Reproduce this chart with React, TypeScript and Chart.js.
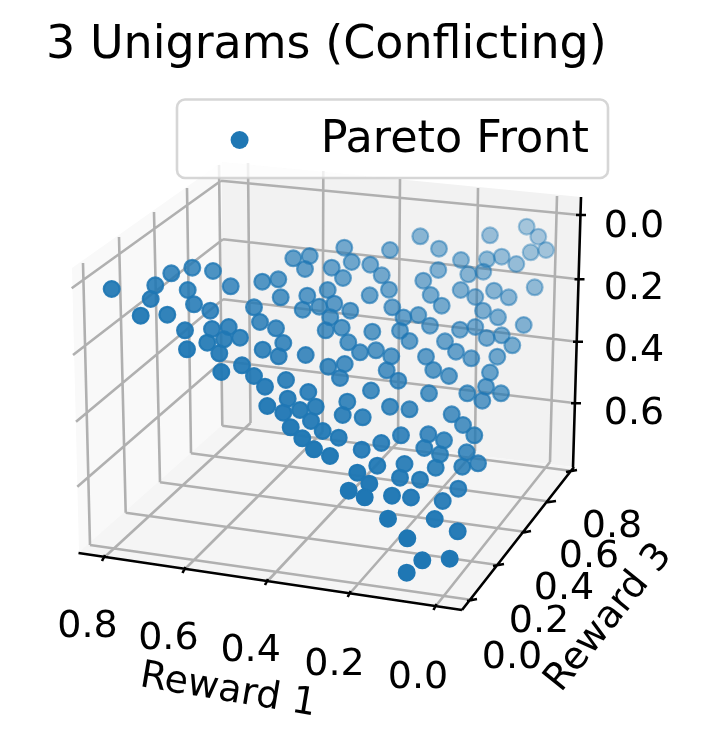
import React, { useEffect, useRef } from "react";
import { Chart, registerables } from "chart.js";

Chart.register(...registerables);

const titleText = "3 Unigrams (Conflicting)";
const seriesName = "Pareto Front";
const xAxisName = "Reward 1";
const yAxisName = "Reward 3";
const xTickLabels = ["0.8", "0.6", "0.4", "0.2", "0.0"];
const yTickLabels = ["0.0", "0.2", "0.4", "0.6", "0.8"];
const zTickLabels = ["0.0", "0.2", "0.4", "0.6"];

// Projected positions of the Pareto-front points.
const paretoX = [
  111.7, 155.3, 150.7, 140.7, 167.3, 171.3, 192.3, 213, 230.7, 187.7, 194, 210.3, 185, 187, 212, 228.7, 224, 240, 207.3, 219.3, 221.3, 242,
  344.3, 390, 293.3, 309.7, 305, 351.7, 331.7, 370.3, 381.7, 343, 262.3, 278.3, 280.7, 307.3, 327.7, 389, 369.7, 319.3, 302.7, 334.3, 350.3, 254, 392.3, 403.5, 260, 276, 330.3, 325.7, 341.7, 372.3, 400, 409.5, 283.3, 348.3, 262.7, 278.7, 305.7, 360, 376, 391.3, 328.3, 344.7, 340, 386.7, 398.3, 254, 265, 286, 308.3, 371,
  526.7, 538.3, 490, 420.3, 439, 546, 530.7, 461, 487, 501.7, 516.3, 438.3, 468.3, 483.3, 423.3, 460.7, 494, 534.7, 508.7, 430.7, 475.3, 441.7, 483, 498, 418.3, 430, 523.7, 460, 475.3, 486.7, 501.7, 512.3, 445, 456, 471.3, 497.3, 426, 433.3, 449, 490,
  267.3, 287.7, 347.3, 315.7, 300, 283.3, 342.7, 362.7, 390, 409.5, 311, 290.7, 322.7, 302.3, 338.7, 401, 381.3, 314, 330, 361.7, 377.3, 404.5, 357.3, 400, 369.3, 348.7, 364.7, 392, 411, 388,
  486, 501, 467.3, 482.3, 429, 451.7, 463, 474.3, 428.3, 444, 424.3, 440, 466.7, 478, 462.3, 435.7, 420, 458.3, 442.7, 434.7, 457.7, 407.3, 422.3, 449.7, 406.7,
];
const paretoY = [
  289, 285.3, 299, 315.7, 314.7, 273.3, 267.7, 271, 286.3, 290, 304.3, 310.7, 330.3, 349.3, 329, 327, 339.3, 337.7, 342.7, 353.3, 372, 365.3,
  247.7, 250, 258.3, 256, 269, 262, 267.7, 264.7, 275.3, 278, 281.7, 279.3, 297.3, 295.7, 290, 289.7, 295.3, 306.7, 309.7, 303.7, 310.7, 307.3, 307.3, 317.5, 322, 328.3, 317.3, 330.3, 327.7, 331.7, 330.7, 341, 343, 342.3, 349.7, 356.3, 355, 352.3, 350.3, 356.3, 366.7, 364, 378, 370.3, 380.7, 376, 386.7, 380, 392, 390.5,
  226.7, 236.7, 235.3, 236.3, 248.7, 250, 252.3, 260, 259.3, 256.7, 264, 270, 274.3, 271.7, 280.7, 290, 290.7, 287.3, 297.3, 295, 297, 305.7, 310.7, 317.3, 315, 325.7, 325, 329.7, 327, 338, 335.3, 345.3, 341.3, 351.7, 358.3, 356.7, 356.7, 370, 376, 372.5,
  406, 398.7, 401.7, 406.7, 410, 412.7, 415, 417.3, 406.7, 409.3, 421, 427.3, 431, 438.3, 437.7, 435.3, 443, 449.3, 456, 449.7, 465.7, 464, 472.7, 477.7, 483.7, 490.7, 497.3, 495.7, 497.5, 518.7,
  386.7, 393.3, 393.3, 400.7, 393.3, 414.3, 425, 435.3, 434.3, 440.3, 448, 454.3, 452.3, 463.3, 466.7, 467.7, 479.7, 488.7, 501, 519, 531.3, 538.3, 560.3, 558.7, 572.7,
];

// Axis frame, as [x1, y1, x2, y2] segments or polygon vertices.
const backWall = [[222, 162], [581, 197], [573, 467], [222, 425]];
const leftWall = [[72, 268], [222, 162], [222, 425], [79, 552]];
const floorPane = [[222, 425], [573, 467], [462, 610], [79, 552]];
const gridLines = [
  [83, 263, 90, 545], [119, 237, 125.7, 512.7], [154, 212, 160, 482.3], [187, 188, 191, 453.3], [219, 165, 222.3, 425.7],
  [71.7, 288.3, 221, 180.7], [73, 355, 223, 239.3], [76, 421.7, 223, 299.3], [77.3, 486.7, 222.3, 361],
  [248, 163, 250.5, 423], [323.3, 171, 322.5, 432], [400, 179, 398, 442], [478, 188, 475, 451], [557, 196, 550, 462],
  [221, 180.7, 580, 215], [223, 239.3, 579, 279.3], [223, 299.3, 577, 341.7], [222.3, 361, 576, 403.3],
  [90, 545, 472, 600], [125.7, 512.7, 498, 565], [160, 482.3, 526, 532], [191, 453.3, 551, 501.7], [222.3, 425.7, 572, 471],
  [250.5, 423, 103.6, 558], [322.5, 432, 184, 570], [398, 442, 266.7, 582], [475, 451, 349.3, 594], [550, 462, 435, 607],
];
const axisLines = [
  [78.5, 553, 462, 610], [462, 610, 574, 467], [581, 197, 573, 467],
  [102, 561, 105, 555], [182.5, 573, 185.5, 567], [265, 585, 268, 579], [347.7, 597, 350.7, 591], [433.5, 610, 436.5, 604],
  [467, 601, 477, 599], [493, 566, 504, 564], [521, 533, 531, 531], [546, 502.5, 556, 501], [566, 472, 577, 470],
  [576, 215, 586, 215], [574.5, 279.3, 584.5, 279.3], [573, 341.7, 583, 341.7], [571, 403.3, 581, 403.3],
];
const xTickX = [87.5, 168.4, 250.6, 334.5, 418];
const xTickY = [623, 635, 647, 660.7, 674];
const yTickX = [512, 539, 564, 589, 612];
const yTickY = [654, 618, 585, 553, 522.7];
const zTickX = [634, 634, 634, 634];
const zTickY = [223, 285, 347, 410];

const W = 706;
const H = 747;
const PAD_LEFT = 46;
const TITLE_BLOCK = 70;
const TICK_FONT = "38px 'DejaVu Sans'";

const segmentsToData = (segs: number[][]) => {
  const out: any[] = [];
  segs.forEach(([a, b, c, d]) => {
    out.push({ x: a, y: b }, { x: c, y: d }, { x: c, y: null });
  });
  return out;
};

const depthAlpha = (x: number, y: number) =>
  Math.max(0.3, Math.min(1, 0.5 - 0.0011 * (x - 420) + 0.0017 * (y - 236)));

const framePlugin = {
  id: "frame3d",
  beforeLayout(chart: any) {
    const legend = chart.legend;
    if (legend) {
      legend._layers = () => [
        {
          z: 10,
          draw: () => {
            const c = chart.ctx;
            c.save();
            c.beginPath();
            c.roundRect(177, 99.5, 431, 78.5, 8);
            c.fillStyle = "rgba(255,255,255,0.8)";
            c.fill();
            c.lineWidth = 2.6;
            c.strokeStyle = "rgba(204,204,204,0.8)";
            c.stroke();
            c.beginPath();
            c.arc(239.6, 140, 9, 0, Math.PI * 2);
            c.fillStyle = "#1f77b4";
            c.fill();
            c.restore();
            legend.left = 185.5;
            legend.top = 118;
            legend.right = 608;
            legend.bottom = 178;
            legend.draw();
          },
        },
      ];
    }
  },
  beforeDatasetsDraw(chart: any) {
    const { ctx, scales } = chart;
    const poly = (pts: number[][], color: string) => {
      ctx.beginPath();
      pts.forEach(([x, y], i) => {
        const px = scales.x.getPixelForValue(x);
        const py = scales.y.getPixelForValue(y);
        if (i === 0) ctx.moveTo(px, py);
        else ctx.lineTo(px, py);
      });
      ctx.closePath();
      ctx.fillStyle = color;
      ctx.fill();
    };
    ctx.save();
    poly(leftWall, "#f9f9f9");
    poly(backWall, "#f2f2f2");
    poly(floorPane, "#f5f5f5");
    ctx.restore();
  },
  afterDatasetsDraw(chart: any) {
    const { ctx, scales } = chart;
    const label = (text: string, x: number, y: number) => {
      ctx.fillText(text, scales.x.getPixelForValue(x), scales.y.getPixelForValue(y) + 14);
    };
    ctx.save();
    ctx.fillStyle = "#000";
    ctx.font = TICK_FONT;
    ctx.textAlign = "center";
    ctx.textBaseline = "alphabetic";
    xTickLabels.forEach((t, i) => label(t, xTickX[i], xTickY[i]));
    yTickLabels.forEach((t, i) => label(t, yTickX[i], yTickY[i]));
    zTickLabels.forEach((t, i) => label(t, zTickX[i], zTickY[i]));
    const rotated = (text: string, x: number, y: number, deg: number) => {
      ctx.save();
      ctx.translate(scales.x.getPixelForValue(x), scales.y.getPixelForValue(y));
      ctx.rotate((deg * Math.PI) / 180);
      ctx.textBaseline = "middle";
      ctx.fillText(text, 0, 0);
      ctx.restore();
    };
    rotated(xAxisName, 228, 691, 9.5);
    rotated(yAxisName, 609, 618, -51);
    ctx.restore();
  },
};

export default function App() {
  const ref = useRef<HTMLCanvasElement>(null);
  useEffect(() => {
    if (!ref.current) return;
    const points = paretoX
      .map((x, i) => ({ x, y: paretoY[i] }))
      .sort((a, b) => depthAlpha(a.x, a.y) - depthAlpha(b.x, b.y));
    const colors = points.map((p) => `rgba(31,119,180,${depthAlpha(p.x, p.y).toFixed(3)})`);
    const chart = new Chart(ref.current, {
      type: "scatter",
      data: {
        datasets: [
          {
            label: seriesName,
            data: points,
            order: 1,
            clip: false,
            pointRadius: 7.9,
            pointBorderWidth: 2.2,
            pointBackgroundColor: colors,
            pointBorderColor: colors,
            showLine: false,
          },
          {
            label: "axes",
            data: segmentsToData(axisLines),
            order: 2,
            clip: false,
            showLine: true,
            spanGaps: false,
            pointRadius: 0,
            borderColor: "#000",
            borderWidth: 2.6,
          },
          {
            label: "grid",
            data: segmentsToData(gridLines),
            order: 3,
            clip: false,
            showLine: true,
            spanGaps: false,
            pointRadius: 0,
            borderColor: "#b0b0b0",
            borderWidth: 2.6,
          },
        ],
      } as any,
      options: {
        responsive: false,
        animation: false,
        events: [],
        layout: { autoPadding: false, padding: { left: PAD_LEFT, right: 0, top: 0, bottom: 0 } },
        scales: {
          x: { type: "linear", display: false, min: PAD_LEFT, max: W },
          y: { type: "linear", display: false, reverse: true, min: TITLE_BLOCK, max: H },
        },
        plugins: {
          tooltip: { enabled: false },
          title: {
            display: true,
            text: titleText,
            align: "start",
            color: "#000",
            font: { family: "'DejaVu Sans'", size: 46, weight: "normal", lineHeight: 1 },
            padding: { top: 23, bottom: 1 },
          },
          legend: {
            display: true,
            position: "chartArea",
            align: "start",
            labels: {
              boxWidth: 113,
              boxHeight: 10,
              padding: 0,
              color: "#000",
              font: { family: "'DejaVu Sans'", size: 44.5 },
              generateLabels: () => [
                { text: seriesName, fillStyle: "rgba(0,0,0,0)", strokeStyle: "rgba(0,0,0,0)", lineWidth: 0, datasetIndex: 0, fontColor: "#000" },
              ],
            },
          },
        },
      } as any,
      plugins: [framePlugin],
    });
    return () => chart.destroy();
  }, []);
  return (
    <div style={{ position: "absolute", left: 0, top: 0, width: W, height: H, background: "#fff" }}>
      <canvas ref={ref} width={W} height={H} style={{ display: "block" }} />
    </div>
  );
}
